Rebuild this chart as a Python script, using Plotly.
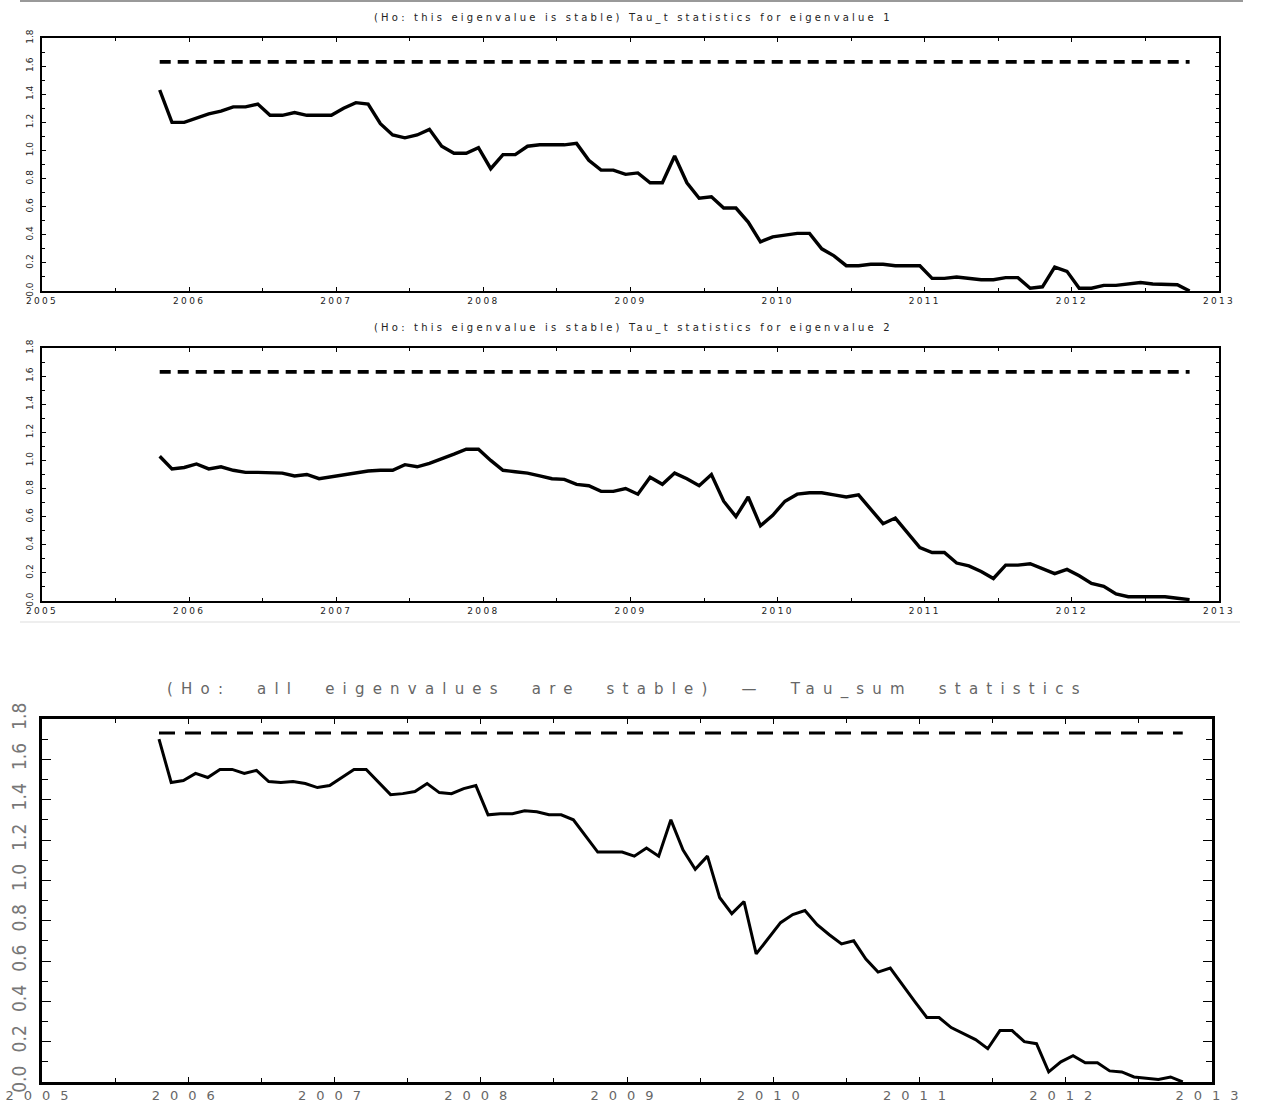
import plotly.graph_objects as go

# ---------------- data ----------------
n_obs = 85
t = [2005.8 + i / 12 for i in range(n_obs)]  # monthly observation dates (decimal years)

tau1 = [1.43, 1.20, 1.20, 1.23, 1.26, 1.28, 1.31, 1.31, 1.33, 1.25,
        1.25, 1.27, 1.25, 1.25, 1.25, 1.30, 1.34, 1.33, 1.19, 1.11,
        1.09, 1.11, 1.15, 1.03, 0.98, 0.98, 1.02, 0.87, 0.97, 0.97,
        1.03, 1.04, 1.04, 1.04, 1.05, 0.93, 0.86, 0.86, 0.83, 0.84,
        0.77, 0.77, 0.96, 0.77, 0.66, 0.67, 0.59, 0.59, 0.49, 0.35,
        0.385, 0.40, 0.41, 0.41, 0.30, 0.25, 0.18, 0.18, 0.19, 0.19,
        0.18, 0.18, 0.18, 0.09, 0.09, 0.10, 0.09, 0.08, 0.08, 0.095,
        0.095, 0.02, 0.03, 0.17, 0.14, 0.02, 0.02, 0.04, 0.04, 0.05,
        0.06, 0.05, 0.045, 0.045, 0.00]

tau2 = [1.03, 0.94, 0.95, 0.975, 0.94, 0.955, 0.93, 0.915, 0.915, 0.91,
        0.91, 0.89, 0.90, 0.87, 0.885, 0.90, 0.91, 0.925, 0.93, 0.93,
        0.97, 0.955, 0.98, 1.01, 1.045, 1.08, 1.08, 1.00, 0.93, 0.92,
        0.91, 0.89, 0.87, 0.865, 0.83, 0.82, 0.78, 0.78, 0.80, 0.76,
        0.88, 0.83, 0.91, 0.87, 0.82, 0.90, 0.71, 0.60, 0.74, 0.535,
        0.61, 0.71, 0.76, 0.77, 0.77, 0.755, 0.74, 0.755, 0.65, 0.55,
        0.59, 0.485, 0.38, 0.345, 0.345, 0.27, 0.25, 0.21, 0.16, 0.255,
        0.255, 0.265, 0.23, 0.195, 0.225, 0.18, 0.125, 0.105, 0.05, 0.03,
        0.03, 0.03, 0.03, 0.02, 0.01]

tau_sum = [1.70, 1.485, 1.495, 1.53, 1.51, 1.55, 1.55, 1.53, 1.545, 1.49,
           1.485, 1.49, 1.48, 1.46, 1.47, 1.51, 1.55, 1.55, 1.485, 1.425,
           1.43, 1.44, 1.48, 1.435, 1.43, 1.455, 1.47, 1.325, 1.33, 1.33,
           1.345, 1.34, 1.325, 1.325, 1.30, 1.22, 1.14, 1.14, 1.14, 1.12,
           1.16, 1.12, 1.30, 1.15, 1.055, 1.12, 0.915, 0.835, 0.895, 0.635,
           0.71, 0.79, 0.83, 0.85, 0.78, 0.73, 0.685, 0.70, 0.61, 0.545,
           0.565, 0.48, 0.40, 0.32, 0.32, 0.27, 0.24, 0.21, 0.165, 0.255,
           0.255, 0.20, 0.19, 0.05, 0.10, 0.13, 0.095, 0.095, 0.055, 0.05,
           0.025, 0.02, 0.013, 0.025, 0.0]

crit_t = 1.63
crit_sum = 1.73

x_ticks = list(range(2005, 2014))
y_ticks = [0.0, 0.2, 0.4, 0.6, 0.8, 1.0, 1.2, 1.4, 1.6, 1.8]

titles = [
    "(Ho: this eigenvalue is stable) Tau_t statistics for eigenvalue 1",
    "(Ho: this eigenvalue is stable) Tau_t statistics for eigenvalue 2",
    "(Ho:  all  eigenvalues  are  stable)  \u2014  Tau_sum  statistics",
]

# ---------------- layout geometry ----------------
W, H = 1264, 1106


def px_x(p):
    return p / W


def px_y(p):
    return 1 - p / H


panels = [
    dict(x0=42, x1=1219, y0=38, y1=291),
    dict(x0=42, x1=1219, y0=348, y1=601),
    dict(x0=42, x1=1212, y0=719, y1=1082),
]

fig = go.Figure()

series = [tau1, tau2, tau_sum]
crits = [crit_t, crit_t, crit_sum]

for k in range(3):
    xa = "x" if k == 0 else f"x{k+1}"
    ya = "y" if k == 0 else f"y{k+1}"
    big = (k == 2)
    fig.add_trace(go.Scatter(
        x=t, y=series[k], xaxis=xa, yaxis=ya, mode="lines",
        line=dict(color="black", width=3.0 if big else 3.4),
        hoverinfo="skip", showlegend=False))
    fig.add_trace(go.Scatter(
        x=[t[0], t[-1]], y=[crits[k], crits[k]], xaxis=xa, yaxis=ya, mode="lines",
        line=dict(color="black", width=3.0 if big else 3.6,
                  dash="16px,10px" if big else "11px,7px"),
        hoverinfo="skip", showlegend=False))

ls_small = "letter-spacing:2.3px"
ls_big = "letter-spacing:10px"

for k, p in enumerate(panels):
    big = (k == 2)
    xkey = "xaxis" if k == 0 else f"xaxis{k+1}"
    ykey = "yaxis" if k == 0 else f"yaxis{k+1}"
    yanchor = "y" if k == 0 else f"y{k+1}"
    xanchor = "x" if k == 0 else f"x{k+1}"
    if big:
        xtext = [f"<span style='{ls_big}'>{v}</span>" for v in x_ticks]
        xfont = dict(family="DejaVu Sans", size=13, color="#666")
        ytext = [f"{v:.1f}" for v in y_ticks]
        yfont = dict(family="Liberation Sans Narrow, DejaVu Sans Condensed, sans-serif",
                     size=19, color="#777")
    else:
        xtext = [f"<span style='{ls_small}'>{v}</span>" for v in x_ticks]
        xfont = dict(family="DejaVu Sans", size=9, color="#222")
        ytext = [f"{v:.1f}" for v in y_ticks]
        yfont = dict(family="DejaVu Sans", size=9, color="#222")

    fig.layout[xkey] = dict(
        domain=[px_x(p["x0"]), px_x(p["x1"])], anchor=yanchor, automargin=False,
        range=[2005, 2013], tickmode="array", tickvals=x_ticks, ticktext=xtext,
        ticks="inside", ticklen=5 if big else 4, tickwidth=1, tickcolor="black",
        minor=dict(dtick=0.5, tick0=2005, ticks="inside", ticklen=4 if big else 3,
                   tickwidth=1, tickcolor="black"),
        showline=True, linecolor="black", linewidth=2.5 if big else 2,
        mirror="allticks", showgrid=False, zeroline=False,
        tickfont=xfont, ticklabelstandoff=0,
    )
    fig.layout[ykey] = dict(
        domain=[px_y(p["y1"]), px_y(p["y0"])], anchor=xanchor, automargin=False,
        range=[0, 1.8], tickmode="array", tickvals=y_ticks, ticktext=ytext,
        ticks="inside", ticklen=9 if big else 4, tickwidth=1, tickcolor="black",
        minor=dict(dtick=0.1, tick0=0, ticks="inside", ticklen=6 if big else 3,
                   tickwidth=1, tickcolor="black"),
        showline=True, linecolor="black", linewidth=2.5 if big else 2,
        mirror="allticks", showgrid=False, zeroline=False,
        tickfont=yfont, tickangle=-90, ticklabelstandoff=6 if big else 3,
    )

# titles
title_y = [18, 328, 690]
title_x = [633, 633, 627]
for k in range(3):
    if k < 2:
        txt = f"<span style='letter-spacing:3.2px'>{titles[k]}</span>"
        fnt = dict(family="DejaVu Sans", size=10, color="#222")
    else:
        txt = f"<span style='letter-spacing:8.2px'>{titles[k]}</span>"
        fnt = dict(family="DejaVu Sans", size=15, color="#666")
    fig.add_annotation(text=txt, x=px_x(title_x[k]), y=px_y(title_y[k]),
                       xref="paper", yref="paper", showarrow=False,
                       xanchor="center", yanchor="middle", font=fnt)

# separator lines of the original page
fig.add_shape(type="line", xref="paper", yref="paper",
              x0=px_x(20), x1=px_x(1243), y0=px_y(1), y1=px_y(1),
              line=dict(color="#777", width=1.5))
fig.add_shape(type="line", xref="paper", yref="paper",
              x0=px_x(20), x1=px_x(1240), y0=px_y(622), y1=px_y(622),
              line=dict(color="#ddd", width=1))

fig.update_layout(
    width=W, height=H, margin=dict(l=0, r=0, t=0, b=0, pad=0),
    paper_bgcolor="white", plot_bgcolor="white", showlegend=False,
)

fig.write_html("out.html")
